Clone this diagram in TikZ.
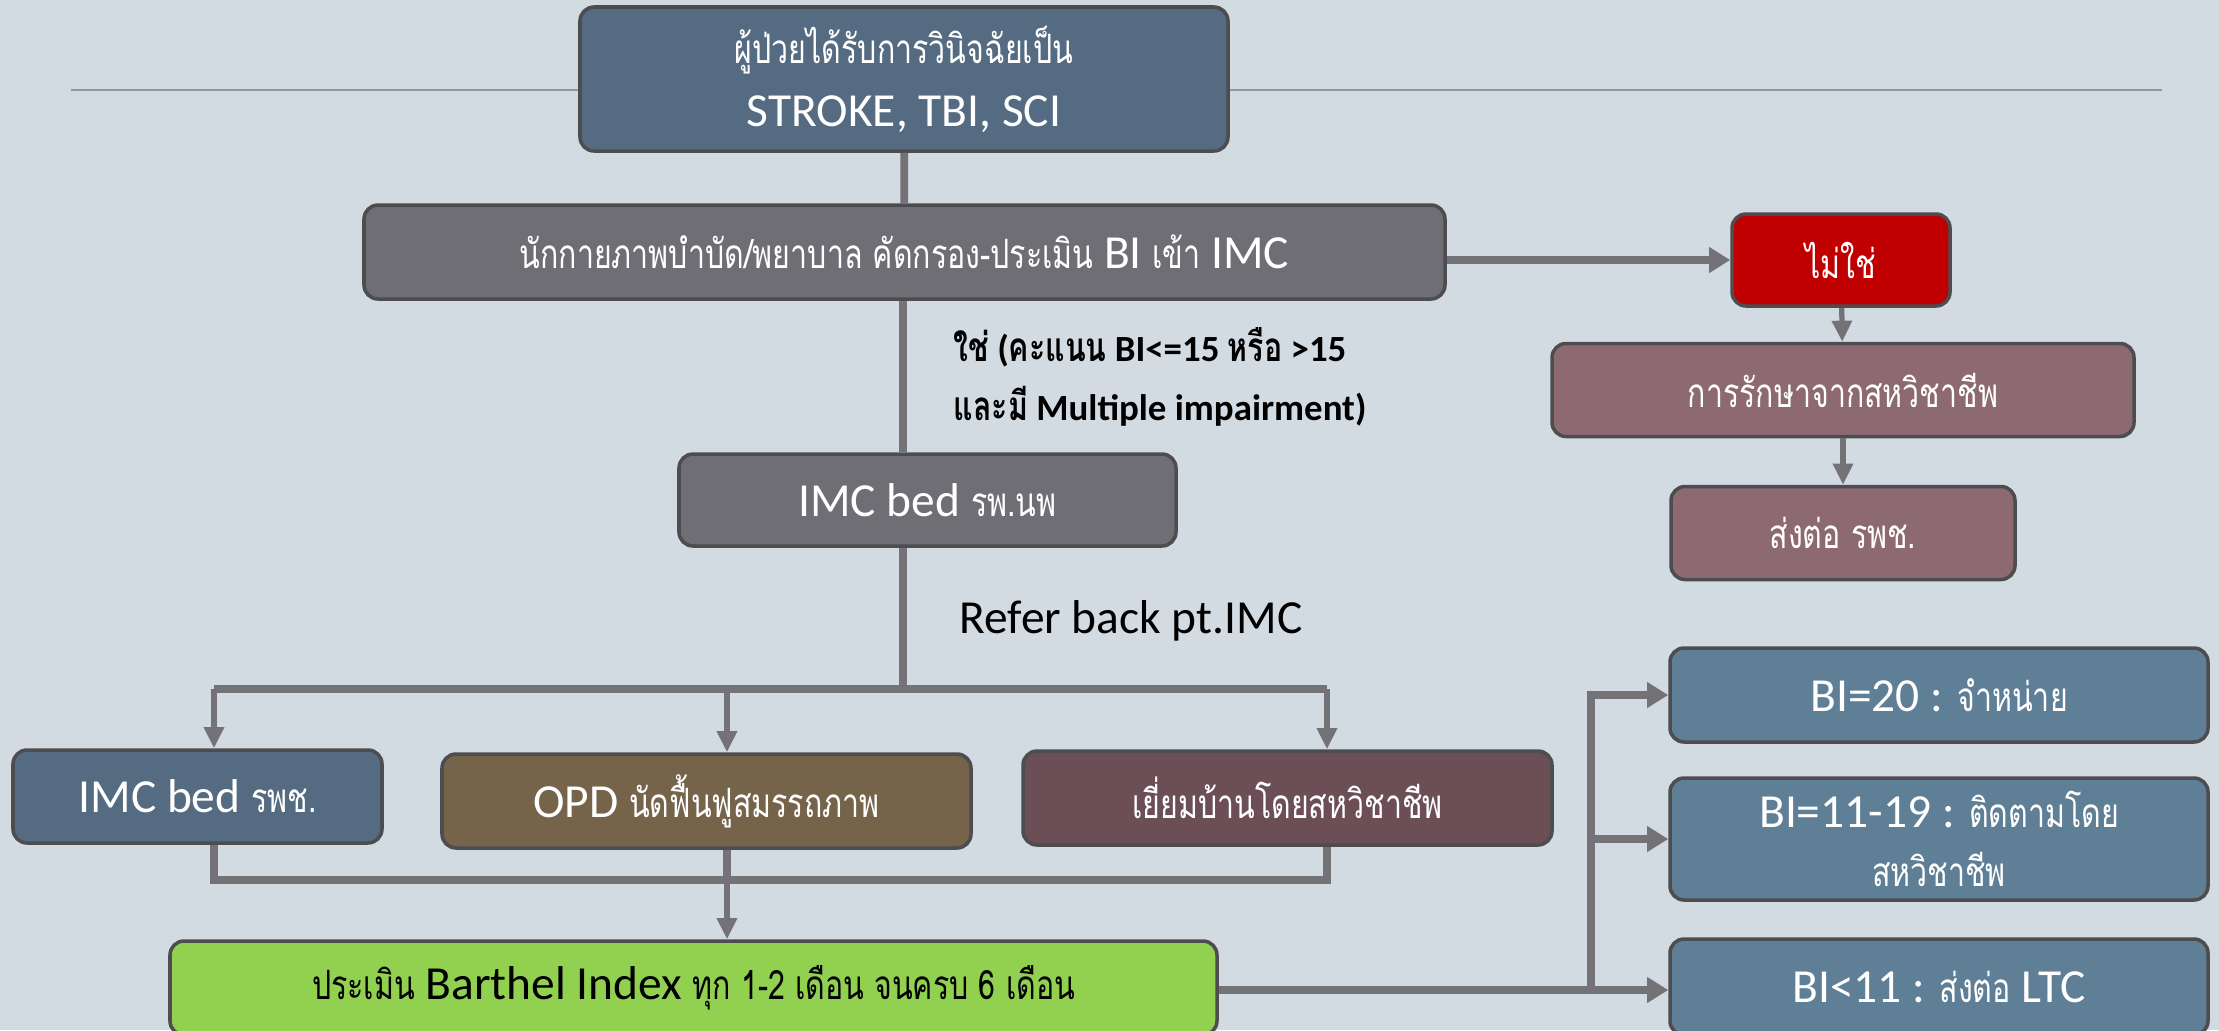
\documentclass[tikz,border=0pt]{standalone}
\usepackage{fontspec}
\setmainfont{Carlito}
\newfontfamily\thaifont[Script=Thai, FakeStretch=0.75]{Loma}
\usetikzlibrary{arrows.meta}

\definecolor{bgcol}{HTML}{D2DAE2}
\definecolor{boxline}{HTML}{4D4D4F}
\definecolor{linkgrey}{HTML}{737277}
\definecolor{rulegrey}{HTML}{8E979F}
\definecolor{slatefill}{HTML}{556B81}
\definecolor{greyfill}{HTML}{6F6E74}
\definecolor{nofill}{HTML}{C00000}
\definecolor{mauvefill}{HTML}{8D6A72}
\definecolor{brownfill}{HTML}{75634A}
\definecolor{plumfill}{HTML}{6B4E56}
\definecolor{greenfill}{HTML}{92D050}
\definecolor{bifill}{HTML}{5F7F96}

\newcommand{\thx}[1]{{\thaifont\fontsize{11.5}{13}\selectfont #1}}

\begin{document}
\begin{tikzpicture}[
	flowbox/.style={draw=boxline, line width=1pt, rounded corners=4pt, text=white, align=center, inner sep=0pt, font=\fontsize{13.5}{17}\selectfont},
	link/.style={draw=linkgrey, line width=2.2pt},
	linkarrow/.style={link, -{Triangle[length=6pt,width=7pt]}},
	thinarrow/.style={draw=linkgrey, line width=1.5pt, -{Triangle[length=6pt,width=5.5pt]}}
	]
		\fill[bgcol] (0,0) rectangle (22.19,-10.30);
		\useasboundingbox (0,0) rectangle (22.19,-10.30);
		\draw[rulegrey, line width=0.6pt] (0.71,-0.90) -- (21.62,-0.90);
		
		\begin{scope}[every node/.style={flowbox}]
		\node[fill=slatefill, minimum width=6.48cm, minimum height=1.44cm] (diag) at (9.04,-0.79) {\thx{ผู้ป่วยได้รับการวินิจฉัยเป็น}\\[1pt]STROKE, TBI, SCI};
		\node[fill=greyfill, minimum width=10.81cm, minimum height=0.94cm] (screen) at (9.045,-2.52) {\thx{นักกายภาพบำบัด/พยาบาล คัดกรอง-ประเมิน} BI \thx{เข้า} IMC};
		\node[fill=nofill, minimum width=2.18cm, minimum height=0.92cm] (no) at (18.41,-2.60) {\thx{ไม่ใช่}};
		\node[fill=mauvefill, minimum width=5.82cm, minimum height=0.93cm] (treat) at (18.43,-3.90) {\thx{การรักษาจากสหวิชาชีพ}};
		\node[fill=mauvefill, minimum width=3.44cm, minimum height=0.93cm] (refer) at (18.43,-5.33) {\thx{ส่งต่อ รพช.}};
		\node[fill=greyfill, minimum width=4.97cm, minimum height=0.92cm] (imcnp) at (9.275,-5.00) {IMC bed \thx{รพ.นพ}};
		\node[fill=slatefill, minimum width=3.69cm, minimum height=0.93cm] (imccom) at (1.975,-7.965) {IMC bed \thx{รพช.}};
		\node[fill=brownfill, minimum width=5.29cm, minimum height=0.94cm] (opd) at (7.065,-8.01) {OPD \thx{นัดฟื้นฟูสมรรถภาพ}};
		\node[fill=plumfill, minimum width=5.29cm, minimum height=0.94cm] (visit) at (12.875,-7.98) {\thx{เยี่ยมบ้านโดยสหวิชาชีพ}};
		\node[fill=greenfill, text=black, minimum width=10.47cm, minimum height=0.94cm] (barthel) at (6.935,-9.88) {\thx{ประเมิน} Barthel Index \thx{ทุก 1-2 เดือน จนครบ 6 เดือน}};
		\node[fill=bifill, minimum width=5.38cm, minimum height=0.94cm] (bi20) at (19.39,-6.95) {BI=20 : \thx{จำหน่าย}};
		\node[fill=bifill, minimum width=5.38cm, minimum height=1.22cm] (bimid) at (19.39,-8.39) {BI=11-19 : \thx{ติดตามโดย}\\\thx{สหวิชาชีพ}};
		\node[fill=bifill, minimum width=5.38cm, minimum height=0.96cm] (bilow) at (19.39,-9.87) {BI<11 : \thx{ส่งต่อ} LTC};
		\end{scope}
		
		\node[anchor=west, align=left, inner sep=0pt, font=\bfseries\fontsize{10.5}{17}\selectfont] (yes) at (9.53,-3.77) {{\thaifont\bfseries\fontsize{11.5}{13}\selectfont ใช่} ({\thaifont\bfseries\fontsize{11.5}{13}\selectfont คะแนน} BI<=15 {\thaifont\bfseries\fontsize{11.5}{13}\selectfont หรือ} >15\\{\thaifont\bfseries\fontsize{11.5}{13}\selectfont และมี} Multiple impairment)};
		\node[font=\fontsize{13.5}{16}\selectfont] (back) at (11.31,-6.21) {Refer back pt.IMC};
		
		\coordinate (split) at (9.03,-6.89);
		\coordinate (brL) at (2.14,-6.89);
		\coordinate (brM) at (7.27,-6.89);
		\coordinate (brR) at (13.27,-6.89);
		\coordinate (mgL) at (2.14,-8.80);
		\coordinate (mgM) at (7.27,-8.80);
		\coordinate (mgR) at (13.27,-8.80);
		\coordinate (fork) at (15.91,-9.90);
		
		\draw[link] (diag) -- (screen);
		\draw[link] (screen.south -| split) -- (imcnp.north -| split);
		\draw[linkarrow] (no.west -| screen.east) -- (no.west);
		\draw[thinarrow] (no) -- (treat);
		\draw[thinarrow] (treat) -- (refer);
		\draw[link] (imcnp.south -| split) -- (split);
		\draw[link] (brL) -- (brR);
		\draw[thinarrow] (brL) -- (brL |- imccom.north);
		\draw[thinarrow] (brM) -- (brM |- opd.north);
		\draw[thinarrow] (brR) -- (brR |- visit.north);
		\draw[link] (imccom.south -| mgL) -- (mgL) -- (mgR) -- (visit.south -| mgR);
		\draw[link] (opd.south -| mgM) -- (mgM);
		\draw[thinarrow] (mgM) -- (barthel.north -| mgM);
		\draw[linkarrow] (barthel.east |- fork) -- (bilow.west |- fork);
		\draw[linkarrow] (fork) |- (bi20.west);
		\draw[linkarrow] (fork |- bimid.west) -- (bimid.west);
		
		\end{tikzpicture}
\end{document}
